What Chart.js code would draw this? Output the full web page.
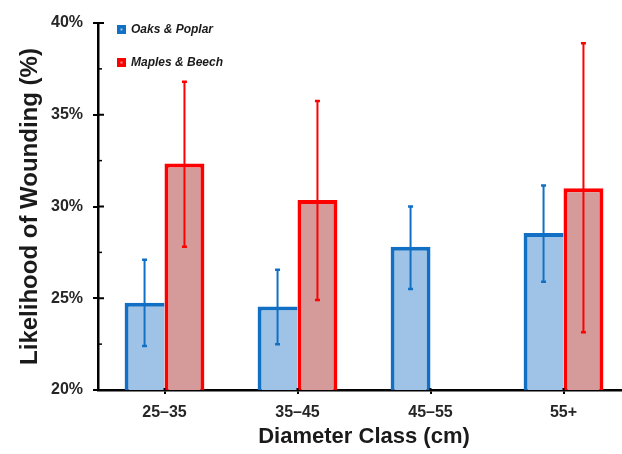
<!DOCTYPE html>
<html><head><meta charset="utf-8">
<script src="https://cdn.jsdelivr.net/npm/chart.js@4"></script>
<style>
html,body{margin:0;padding:0;background:#fff;overflow:hidden;width:622px;height:454px}
#wrap{position:absolute;left:0;top:0;width:632px;height:454px}
</style>
</head><body><div id="wrap"><canvas id="c"></canvas></div>
<script>
const categories = ['25–35', '35–45', '45–55', '55+'];
const seriesNames = ['Oaks & Poplar', 'Maples & Beech'];
const oaksValues = [24.75, 24.55, 27.8, 28.55];
const oaksLow = [22.4, 22.5, 25.5, 25.9];
const oaksHigh = [27.1, 26.55, 30.0, 31.15];
const maplesValues = [32.35, 30.35, null, 31.0];
const maplesLow = [27.8, 24.9, null, 23.15];
const maplesHigh = [36.8, 35.75, null, 38.9];
const yMin = 20, yMax = 40, yMinorStep = 2.5;
const yLabelledTicks = [20, 25, 30, 35, 40];

const FONT = "'Liberation Sans', Arial, sans-serif";
const BLUE = '#1170c4', BLUE_FILL = '#9fc3e7';
const RED = '#ff0000', RED_FILL = '#d59b9b';

const errorBars = {
  id: 'errorBars',
  afterDatasetsDraw(chart) {
    const ctx = chart.ctx, ys = chart.scales.y;
    chart.data.datasets.forEach((ds, di) => {
      const meta = chart.getDatasetMeta(di);
      meta.data.forEach((bar, i) => {
        const lo = ds.errLow[i], hi = ds.errHigh[i];
        if (lo == null || hi == null) return;
        const x = bar.x, y1 = ys.getPixelForValue(lo), y2 = ys.getPixelForValue(hi);
        ctx.save();
        ctx.strokeStyle = ds.errColor;
        ctx.lineWidth = 2;
        ctx.beginPath(); ctx.moveTo(x, y1); ctx.lineTo(x, y2); ctx.stroke();
        ctx.lineWidth = 2.5;
        ctx.beginPath();
        ctx.moveTo(x - 2.5, y1); ctx.lineTo(x + 2.5, y1);
        ctx.moveTo(x - 2.5, y2); ctx.lineTo(x + 2.5, y2);
        ctx.stroke();
        ctx.restore();
      });
    });
  }
};

const innerTicks = {
  id: 'innerTicks',
  afterDraw(chart) {
    const ctx = chart.ctx, ys = chart.scales.y, xs = chart.scales.x;
    const left = chart.chartArea.left, bottom = chart.chartArea.bottom;
    ctx.save();
    ctx.strokeStyle = '#000';
    ys.ticks.forEach(t => {
      const y = ys.getPixelForValue(t.value);
      const major = yLabelledTicks.includes(t.value);
      ctx.lineWidth = major ? 2 : 1.5;
      ctx.beginPath(); ctx.moveTo(left, y); ctx.lineTo(left + (major ? 6 : 4), y); ctx.stroke();
    });
    xs.ticks.forEach((t, i) => {
      const x = xs.getPixelForTick(i);
      ctx.lineWidth = 2;
      ctx.beginPath(); ctx.moveTo(x, bottom); ctx.lineTo(x, bottom - 2); ctx.stroke();
    });
    ctx.restore();
  }
};

const innerLegend = {
  id: 'innerLegend',
  afterDraw(chart) {
    const ctx = chart.ctx, a = chart.chartArea;
    ctx.save();
    chart.data.datasets.forEach((ds, i) => {
      const x = a.left + 19, cy = a.top + 6.5 + i * 33;
      ctx.fillStyle = ds.borderColor;
      ctx.fillRect(x, cy - 4.5, 9, 9);
      ctx.fillStyle = ds.backgroundColor;
      ctx.fillRect(x + 3.5, cy - 1, 2, 2);
      ctx.fillStyle = '#1a1a1a';
      ctx.font = "italic bold 12px " + FONT;
      ctx.textBaseline = 'middle';
      ctx.textAlign = 'left';
      ctx.fillText(ds.label, x + 14, cy + 0.5);
    });
    ctx.restore();
  }
};

new Chart(document.getElementById('c'), {
  type: 'bar',
  data: {
    labels: categories,
    datasets: [
      {
        label: seriesNames[0], data: oaksValues,
        backgroundColor: BLUE_FILL, borderColor: BLUE,
        borderWidth: ctx => (maplesValues[ctx.dataIndex] == null
          ? {top: 4, left: 4, right: 4, bottom: 0}
          : {top: 4, left: 4, right: 0, bottom: 0}),
        borderSkipped: false,
        errLow: oaksLow, errHigh: oaksHigh, errColor: BLUE,
        barPercentage: 1.0, categoryPercentage: 0.6
      },
      {
        label: seriesNames[1], data: maplesValues,
        backgroundColor: RED_FILL, borderColor: RED,
        borderWidth: {top: 4, left: 4, right: 4, bottom: 0},
        borderSkipped: false,
        errLow: maplesLow, errHigh: maplesHigh, errColor: RED,
        barPercentage: 1.0, categoryPercentage: 0.6
      }
    ]
  },
  options: {
    responsive: true,
    maintainAspectRatio: false,
    animation: false,
    layout: {padding: {left: 0, top: 23, right: 2, bottom: 0}},
    plugins: {legend: {display: false}, tooltip: {enabled: false}},
    scales: {
      x: {
        offset: true,
        grid: {display: true, drawOnChartArea: false, offset: false, drawTicks: true, tickLength: 4, color: '#000', lineWidth: 2},
        border: {display: true, color: '#000', width: 2.5},
        ticks: {color: '#262626', font: {family: FONT, size: 16, weight: 'bold'}, padding: 9, maxRotation: 0, autoSkip: false},
        title: {display: true, text: 'Diameter Class (cm)', color: '#1a1a1a', font: {family: FONT, size: 22, weight: 'bold'}, padding: {top: 0, bottom: 4}},
        afterFit: s => { s.height = 64; }
      },
      y: {
        min: yMin, max: yMax,
        grid: {display: true, drawOnChartArea: false, drawTicks: true, tickLength: 5,
          color: c => (yLabelledTicks.includes(c.tick.value) ? '#000' : 'rgba(0,0,0,0)'), lineWidth: 2},
        border: {display: true, color: '#000', width: 2.5},
        ticks: {stepSize: yMinorStep, color: '#262626', font: {family: FONT, size: 16, weight: 'bold'}, padding: 10,
          callback: v => (yLabelledTicks.includes(v) ? v + '%' : '')},
        title: {display: true, text: 'Likelihood of Wounding (%)', color: '#1a1a1a', font: {family: FONT, size: 24, weight: 'bold'}, padding: {top: 16, bottom: 0}},
        afterFit: s => { s.width = 98; }
      }
    }
  },
  plugins: [errorBars, innerTicks, innerLegend]
});
</script>
</body></html>
